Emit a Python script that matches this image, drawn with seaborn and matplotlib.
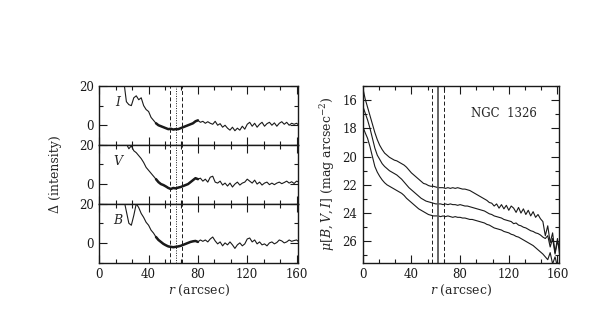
import numpy as np
import matplotlib
matplotlib.use("Agg")
import matplotlib.pyplot as plt
import seaborn as sns
from matplotlib.ticker import MultipleLocator

# residual profiles (left), sampled every 2 arcsec from r = 20
r_res = np.arange(20, 164, 2)
I_res = [22, 12, 10.5, 10, 14, 15, 13, 14, 10, 8, 7, 4, 2.5, 1, 0, -0.5, -1, -1.5, -2, -1.8,
         -2.2, -2, -2, -1.5, -1, -0.5, 0, 0.5, 1, 2, 2.5, 1.5, 2, 1, 1.8, 1, 0.5, 2, 0, 0.8,
         -1, 0, -1.5, -2.5, -1, -2.8, -1.5, -2.5, -0.5, -2, 0.5, 1.5, -0.5, 1, -1, 0.5, 1.5, -0.5,
         0.8, 1.5, 0, 1.2, -0.5, 1, 1.8, 0.5, 1.5, 0, 1, 0.5, 1, 0]
V_res = [25, 20.5, 18, 19.5, 17, 16, 14.5, 13, 11, 8.5, 7, 5.5, 4, 2.5, 1, 0, -0.5, -1.2, -2, -2.5,
         -2, -2.2, -1.8, -1.5, -1, -0.5, 0, 1, 2, 3, 2.5, 3, 1.5, 2.5, 1, 3.5, 4, 1, 0.5, 1.5,
         -0.5, 0.5, -1, 0.5, -1.5, 0, 1, -0.5, 0.5, 1, 2.5, 1.5, 0.5, 2, 0, 1, -0.5, 0.5,
         1, -0.3, 0.5, -0.3, 0.5, 1, 0.2, 0.8, 1.5, 0.5, 1.2, 0.3, 1.5, 1]
B_res = [22, 16, 10, 9, 14, 20, 18, 15, 13, 10.5, 9, 6.5, 5, 3, 1.5, 0.5, -0.5, -1.2, -1.8, -2,
         -2.2, -2, -1.8, -1.5, -1, -0.5, 0, 0.5, 0.8, 1, 0.5, 1.5, 0.8, 1.5, 0.5, 2, 3, 1, -0.5, 0.5,
         -1.5, 0, -1, 0.5, -1, -2.8, -1, 0, -1.5, -0.5, 2, 2.5, 0.5, 1.5, -0.5, 0.5, -1, -0.5,
         -1.5, 0, 0.5, -0.5, 0.2, 1.5, 1, 0, 0.5, 1.5, 0.8, 1.2, 1.5, 0.5]
band_names = ["I", "V", "B"]

# surface brightness profiles (right), sampled every 2 arcsec from r = 0
r_mu = np.arange(0, 164, 2)
mu_top = [15.1, 15.9, 16.5, 17.1, 17.7, 18.3, 18.8, 19.2, 19.5, 19.75, 19.9, 20.05, 20.15, 20.25,
          20.3, 20.4, 20.5, 20.6, 20.75, 20.95, 21.15, 21.3, 21.45, 21.6, 21.75, 21.9, 21.95, 22.05,
          22.1, 22.1, 22.15, 22.2, 22.2, 22.2, 22.25, 22.2, 22.25, 22.2, 22.25, 22.2, 22.25, 22.3,
          22.3, 22.35, 22.4, 22.5, 22.6, 22.7, 22.8, 22.9, 23.0, 23.1, 23.25, 23.3, 23.5, 23.35,
          23.65, 23.4, 23.7, 23.45, 23.8, 23.5, 23.65, 23.95, 23.6, 24.0, 23.7, 24.1, 23.8, 24.2,
          23.9, 24.3, 24.1, 24.4, 24.6, 25.6, 24.9, 26.1, 25.4, 26.8, 25.8, 27.1]
mu_mid = [16.4, 16.9, 17.4, 18.0, 18.7, 19.4, 19.9, 20.2, 20.5, 20.7, 20.85, 21.0, 21.1, 21.2,
          21.3, 21.45, 21.6, 21.8, 22.0, 22.2, 22.35, 22.5, 22.65, 22.8, 22.95, 23.05, 23.15, 23.2,
          23.25, 23.3, 23.35, 23.35, 23.35, 23.4, 23.35, 23.4, 23.35, 23.4, 23.4, 23.45, 23.4, 23.45,
          23.5, 23.5, 23.55, 23.6, 23.65, 23.7, 23.75, 23.8, 23.85, 23.95, 24.05, 24.1, 24.2, 24.25,
          24.3, 24.35, 24.45, 24.5, 24.55, 24.6, 24.75, 24.7, 24.85, 24.9, 25.0, 25.05, 25.15, 25.25,
          25.3, 25.4, 25.45, 25.55, 25.7, 25.8, 25.6, 26.4, 25.8, 26.9, 26.0, 26.6]
mu_bot = [17.85, 18.3, 18.7, 19.3, 20.0, 20.7, 21.1, 21.4, 21.65, 21.85, 22.0, 22.1, 22.2, 22.3,
          22.4, 22.5, 22.6, 22.75, 22.95, 23.1, 23.25, 23.4, 23.55, 23.7, 23.8, 23.9, 24.0, 24.1,
          24.15, 24.2, 24.2, 24.2, 24.25, 24.2, 24.25, 24.2, 24.25, 24.3, 24.25, 24.3, 24.3, 24.35,
          24.35, 24.4, 24.45, 24.45, 24.5, 24.55, 24.6, 24.65, 24.7, 24.8, 24.85, 24.95, 25.05, 25.1,
          25.15, 25.2, 25.3, 25.35, 25.4, 25.5, 25.55, 25.65, 25.7, 25.8, 25.9, 26.0, 26.1, 26.2,
          26.3, 26.45, 26.6, 26.75, 26.9, 27.1, 27.3, 26.8, 27.6, 27.1, 27.8, 27.4]

dashed_r = [57, 67]
mid_r = 62

sns.set_theme(style="ticks")
plt.rcParams["font.family"] = ["DejaVu Serif"]
plt.rcParams["mathtext.fontset"] = "dejavuserif"
plt.rcParams["font.size"] = 8.5


def style_axis(ax):
    ax.tick_params(which="both", direction="in", top=True, right=True, colors="k",
                   labelsize=8.5, pad=4)
    ax.tick_params(which="major", length=6, width=0.8)
    ax.tick_params(which="minor", length=3, width=0.8)
    ax.xaxis.set_major_locator(MultipleLocator(40))
    ax.xaxis.set_minor_locator(MultipleLocator(40 / 3))
    for s in ax.spines.values():
        s.set_linewidth(1.0)
        s.set_color("k")


fig = plt.figure(figsize=(5.98, 3.18), dpi=100)

left, width = 0.166, 0.332
bottom, height = 0.1745, 0.555
panel_h = height / 3
res_data = [I_res, V_res, B_res]
axes_left = []
for i, (name, vals) in enumerate(zip(band_names, res_data)):
    ax = fig.add_axes([left, bottom + (2 - i) * panel_h, width, panel_h])
    sns.lineplot(x=r_res, y=vals, ax=ax, color="k", lw=0.8, estimator=None)
    thick = (r_res >= 46) & (r_res <= 80)
    sns.lineplot(x=r_res[thick], y=np.array(vals)[thick], ax=ax, color="k", lw=1.8,
                 estimator=None)
    for r in dashed_r:
        ax.axvline(r, color="k", lw=0.7, ls=(0, (4, 2.5)))
    ax.axvline(mid_r, color="k", lw=0.7, ls=(0, (1, 1.5)))
    ax.set_xlim(0, 161)
    ax.set_ylim(-10, 20)
    ax.yaxis.set_major_locator(MultipleLocator(20))
    ax.yaxis.set_minor_locator(MultipleLocator(10))
    style_axis(ax)
    ax.text(15, 11.5, name, style="italic", fontsize=9, ha="center", va="center")
    if i < 2:
        ax.tick_params(labelbottom=False)
    else:
        ax.set_xlabel("$r$ (arcsec)", fontsize=9, labelpad=1)
    axes_left.append(ax)

fig.text(0.092, bottom + height / 2, "Δ (intensity)", rotation=90, ha="center",
         va="center", fontsize=9)

ax2 = fig.add_axes([0.6065, bottom, 0.3288, height])
for prof in [mu_top, mu_mid, mu_bot]:
    sns.lineplot(x=r_mu, y=prof, ax=ax2, color="k", lw=0.8, estimator=None)
for r in dashed_r:
    ax2.axvline(r, color="k", lw=0.7, ls=(0, (4, 2.5)))
ax2.axvline(mid_r, color="0.35", lw=1.3)
ax2.set_xlim(0, 161.5)
ax2.set_ylim(27.5, 15)
ax2.yaxis.set_major_locator(MultipleLocator(2))
ax2.yaxis.set_minor_locator(MultipleLocator(1))
style_axis(ax2)
ax2.set_xlabel("$r$ (arcsec)", fontsize=9, labelpad=1)
ax2.set_ylabel(r"$\mu[B,V,I]$ (mag arcsec$^{-2}$)", fontsize=9, labelpad=4)
ax2.text(0.887, 0.843, "NGC  1326", transform=ax2.transAxes, ha="right", va="center",
         fontsize=8.5)

fig.savefig("out.png", dpi=100, facecolor="white")
